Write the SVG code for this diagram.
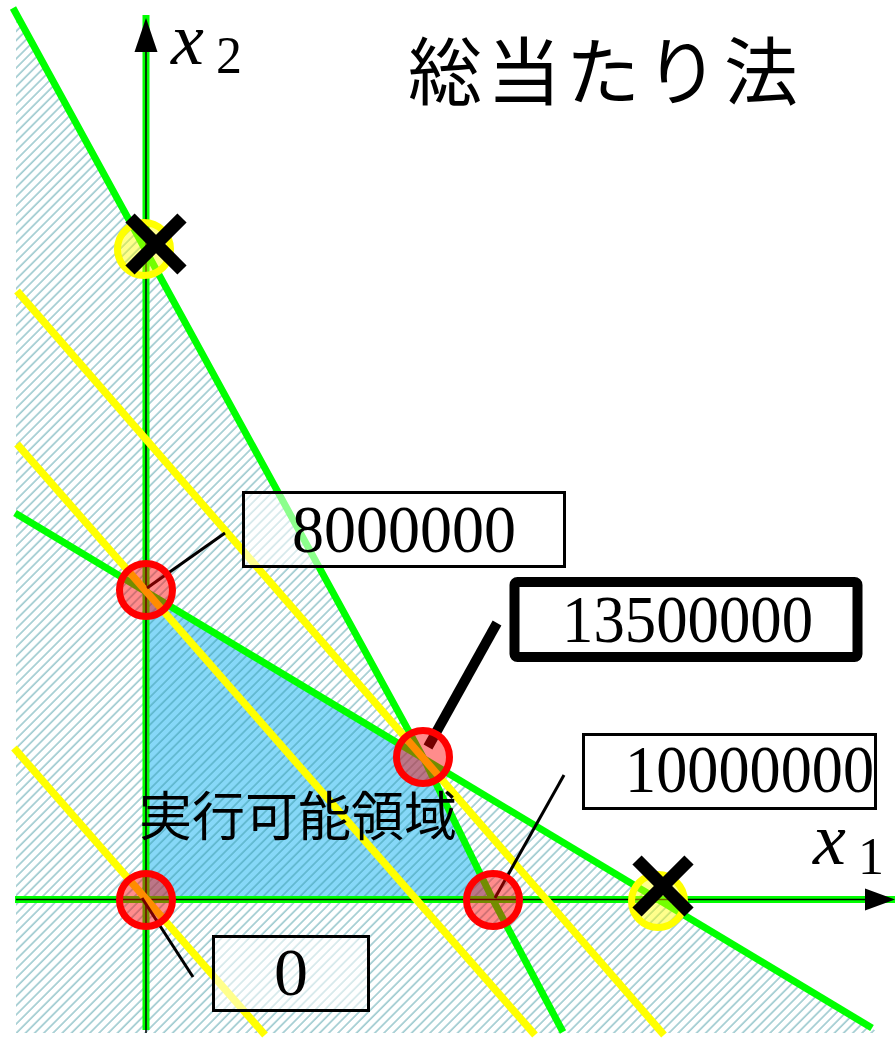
<svg xmlns="http://www.w3.org/2000/svg" width="895" height="1038" viewBox="0 0 895 1038">
<defs>
<style>
.g{stroke:#00ff00;stroke-width:7;fill:none}
.y{stroke:#ffff00;stroke-width:7.5;fill:none}
.ax{stroke:#000;stroke-width:1.5;fill:none}
.rc{fill:rgba(255,0,0,0.45);stroke:#ff0000;stroke-width:7}
.yc{fill:rgba(255,255,0,0.45);stroke:#ffff00;stroke-width:7}
.box{fill:rgba(255,255,255,0.55);stroke:#000;stroke-width:3}
.num{font-family:"Liberation Serif",serif;font-size:68px;fill:#000}
.mx{font-family:"Liberation Serif",serif;font-style:italic;font-size:74px;fill:#000}
.ms{font-family:"Liberation Serif",serif;font-size:52px;fill:#000}
.jp{font-family:"Noto Sans CJK JP","Noto Sans",sans-serif;fill:#000}
.lead{stroke:#000;stroke-width:3;fill:none}
.xm{stroke:#000;stroke-width:13;stroke-linecap:butt}
</style>
<pattern id="hatch" patternUnits="userSpaceOnUse" width="6.5" height="6.5" patternTransform="rotate(45)">
<line x1="1" y1="0" x2="1" y2="6.5" stroke="#2f8d98" stroke-opacity="0.55" stroke-width="1.4"/>
</pattern>
</defs>
<rect width="895" height="1038" fill="#fff"/>
<g id="feasible-region">
<polygon points="146,590 423,757 493,900 146,900" fill="#86d8f8" stroke="#000" stroke-width="1.3"/>
</g>
<g id="hatched-area">
<polygon points="16,13.5 423,757 872,1028 878,1033 16,1033" fill="url(#hatch)"/>
</g>
<g id="connectors">
<polyline class="g" points="13,8 423,757 493,900 563,1032"/>
<line class="g" x1="15" y1="513" x2="872" y2="1028"/>
<line class="g" x1="146" y1="15" x2="146" y2="1030"/>
<line class="g" x1="15" y1="899.5" x2="895" y2="899.5"/>
<line class="ax" x1="146" y1="40" x2="146" y2="1033"/>
<line class="ax" x1="16" y1="899.5" x2="870" y2="899.5"/>
<polygon points="146,18 134.5,52 157.5,52" fill="#000"/>
<polygon points="895,899.5 865,888.5 865,910.5" fill="#000"/>
<line class="y" x1="17" y1="291" x2="664" y2="1035"/>
<line class="y" x1="17" y1="444" x2="535" y2="1035"/>
<line class="y" x1="14" y1="748" x2="265" y2="1035"/>
<line class="lead" x1="147" y1="588" x2="225" y2="533"/>
<line stroke="#000" stroke-width="10" x1="428" y1="747" x2="497" y2="623"/>
<line class="lead" x1="495" y1="898" x2="564" y2="775"/>
<line class="lead" x1="142" y1="898" x2="193" y2="977"/>
</g>
<g id="vertex-0"><circle class="rc" cx="146" cy="900" r="26.5"/></g>
<g id="vertex-8000000"><circle class="rc" cx="146" cy="590" r="26.5"/></g>
<g id="vertex-13500000"><circle class="rc" cx="423" cy="757" r="26.5"/></g>
<g id="vertex-10000000"><circle class="rc" cx="493" cy="900" r="26.5"/></g>
<g id="infeasible-top">
<circle class="yc" cx="144" cy="249" r="26.5"/>
<line class="xm" x1="130" y1="218" x2="182" y2="270"/>
<line class="xm" x1="182" y1="218" x2="130" y2="270"/>
</g>
<g id="infeasible-right">
<circle class="yc" cx="658" cy="901" r="26.5"/>
<line class="xm" x1="637" y1="860" x2="689" y2="912"/>
<line class="xm" x1="689" y1="860" x2="637" y2="912"/>
</g>
<g id="label-8000000">
<rect class="box" x="243.5" y="492.5" width="321" height="74"/>
<text class="num" x="292" y="552" textLength="224" lengthAdjust="spacingAndGlyphs">8000000</text>
</g>
<g id="label-13500000">
<rect x="514.5" y="582" width="343" height="75" rx="3" fill="#fff" stroke="#000" stroke-width="10"/>
<text class="num" x="562" y="642" textLength="251" lengthAdjust="spacingAndGlyphs">13500000</text>
</g>
<g id="label-10000000">
<rect class="box" x="583.5" y="734.5" width="292" height="74"/>
<text class="num" x="625" y="792" textLength="249" lengthAdjust="spacingAndGlyphs">10000000</text>
</g>
<g id="label-0">
<rect class="box" x="213.5" y="936.5" width="155" height="74"/>
<text class="num" x="291" y="995" text-anchor="middle">0</text>
</g>
<g id="axis-labels">
<text class="mx" x="171" y="64">x</text><text class="ms" x="216" y="73">2</text>
<text class="mx" x="813" y="864">x</text><text class="ms" x="858" y="874">1</text>
</g>
<g id="titles">
<text class="jp" x="408" y="99" font-size="74" letter-spacing="5">総当たり法</text>
<text class="jp" x="139" y="836" font-size="53">実行可能領域</text>
</g>
</svg>
